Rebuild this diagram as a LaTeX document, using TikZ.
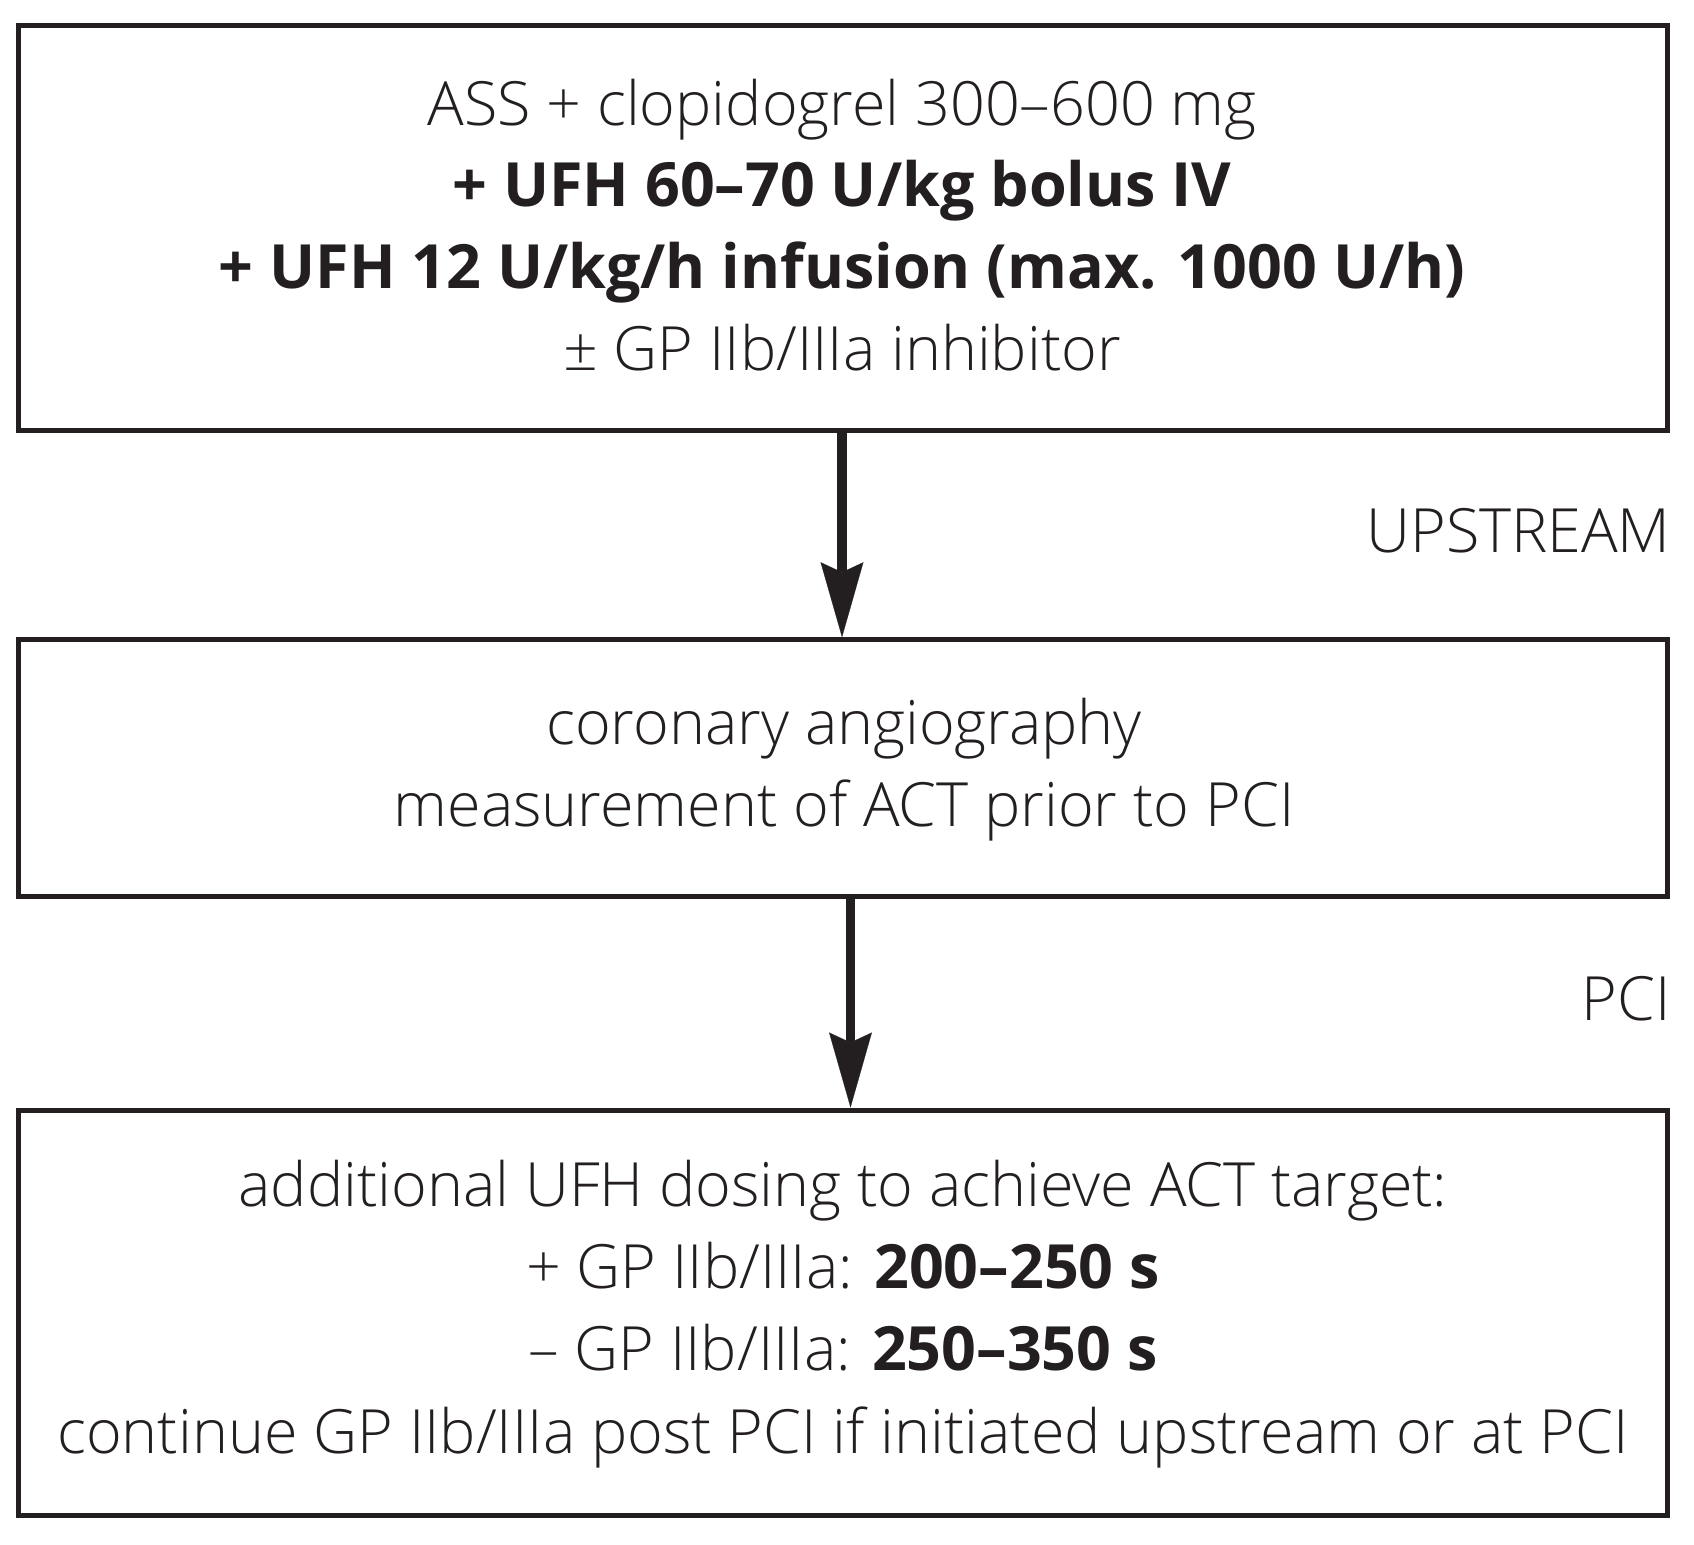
\documentclass[tikz,border=0pt]{standalone}
\usepackage{fontspec}
\IfFontExistsTF{Open Sans Light}
  {\setmainfont{Open Sans}[UprightFont=* Light, BoldFont=* Bold]}
  {\setmainfont{Open Sans}}
\usetikzlibrary{arrows.meta}
\definecolor{ink}{RGB}{35,31,32}
\tikzset{
  box/.style={draw=ink, line width=2.5pt, minimum width=824.5pt, inner sep=0pt},
  txt/.style={anchor=base, inner sep=0pt, text=ink, font=\fontsize{30.5}{36}\selectfont},
  lbl/.style={anchor=base east, inner sep=0pt, text=ink, font=\fontsize{30.5}{36}\selectfont},
  arr/.style={draw=ink, line width=4.65pt, -{Stealth[length=37.5pt, width=21.4pt, inset=5pt, line width=0.1pt]}}
}
\begin{document}
\begin{tikzpicture}[x=0.5pt,y=-0.5pt]
\useasboundingbox (0,0) rectangle (1694,1544);
% boxes
\node[box, minimum height=202.25pt] (b1) at (843,227.75) {};
\node[box, minimum height=128.25pt] (b2) at (843,768) {};
\node[box, minimum height=202.5pt] (b3) at (843,1312.5) {};
% box 1 text
\node[txt] (t11) at (842,125) {ASS + clopidogrel 300–600 mg};
\node[txt] (t12) at (842,206) {\textbf{+ UFH 60–70 U/kg bolus IV}};
\node[txt] (t13) at (842,288) {\textbf{+ UFH 12 U/kg/h infusion (max. 1000 U/h)}};
\node[txt] (t14) at (842,370) {± GP IIb/IIIa inhibitor};
% box 2 text
\node[txt] (t21) at (844,744) {coronary angiography};
\node[txt] (t22) at (844,826) {measurement of ACT prior to PCI};
% box 3 text
\node[txt] (t31) at (843,1206) {additional UFH dosing to achieve ACT target:};
\node[txt] (t32) at (843,1288) {+ GP IIb/IIIa: \textbf{200–250 s}};
\node[txt] (t33) at (843,1370) {– GP IIb/IIIa: \textbf{250–350 s}};
\node[txt] (t34) at (843,1453) {continue GP IIb/IIIa post PCI if initiated upstream or at PCI};
% side labels
\node[lbl] (up) at (1671,552.7) {UPSTREAM};
\node[lbl] (pci) at (1671,1020.7) {PCI};
% arrows
\coordinate (a1) at (842,0);
\coordinate (a2) at (850.5,0);
\draw[arr] (a1 |- b1.south) -- (a1 |- b2.north);
\draw[arr] (a2 |- b2.south) -- (a2 |- b3.north);
\end{tikzpicture}
\end{document}
